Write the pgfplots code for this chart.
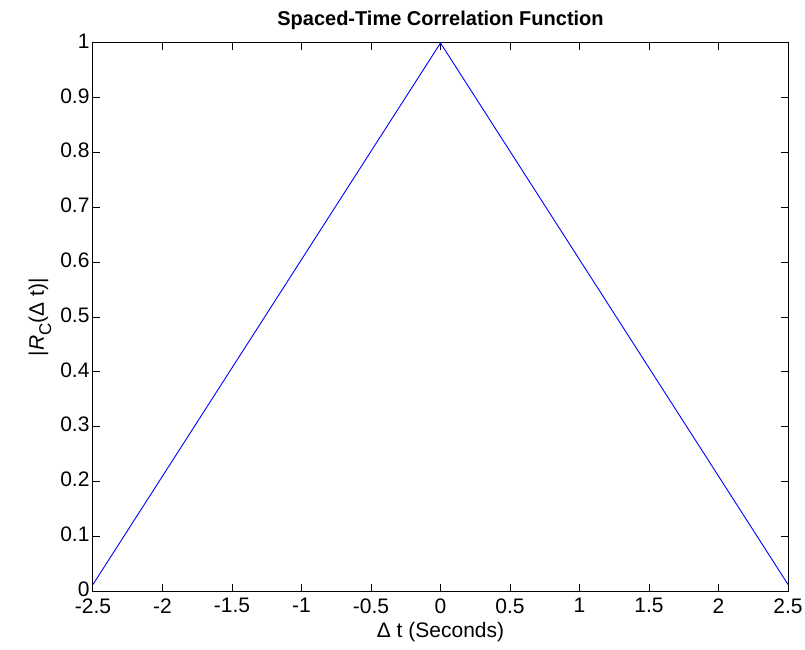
\documentclass[border=0pt]{standalone}
\usepackage{fontspec}
\setmainfont{Liberation Sans}
\usepackage{pgfplots}
\pgfplotsset{compat=1.18}

\begin{document}
\begin{tikzpicture}
\useasboundingbox (-93pt,-58pt) rectangle (712pt,591pt);
\begin{axis}[
    scale only axis,
    width=695pt, height=548pt,
    xmin=-2.5, xmax=2.5, ymin=0, ymax=1,
    xtick={-2.5,-2,...,2.5},
    ytick={0,0.1,...,1},
    tick align=inside,
    major tick length=7pt,
    axis line style={line width=1pt},
    every tick/.style={black, line width=1pt},
    /pgf/number format/assume math mode=true,
    tick label style={font=\fontsize{21}{24}\selectfont},
    label style={font=\fontsize{21}{24}\selectfont},
    title style={font=\fontsize{20}{22}\selectfont\bfseries, yshift=4pt},
    title={Spaced-Time Correlation Function},
    xlabel={Δ t (Seconds)},
    ylabel={|\textit{R}\raisebox{-0.35em}{\fontsize{17}{19}\selectfont C}(Δ t)|},
    xticklabel style={yshift=-4pt},
    yticklabel style={yshift=2pt},
    xlabel style={yshift=-2pt},
    ylabel style={yshift=2pt},
]
\addplot[blue, line width=0.9pt] coordinates {(-2.5,0.012) (0,1) (2.5,0.012)};
\end{axis}
\end{tikzpicture}
\end{document}
